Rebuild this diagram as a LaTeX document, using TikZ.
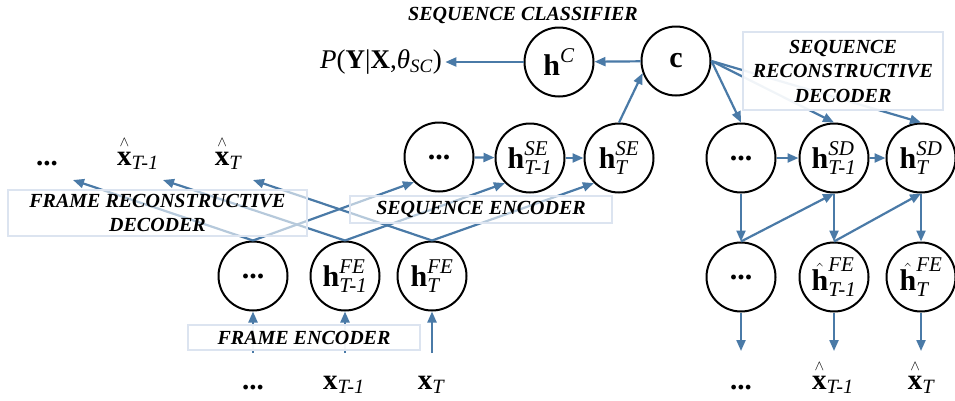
\documentclass[tikz,border=0pt]{standalone}
\usepackage{amsmath}
\usepackage{fontspec}
\setmainfont{Liberation Serif}
\usetikzlibrary{arrows.meta}
\definecolor{linkblue}{HTML}{4A7AA7}
\definecolor{boxedge}{HTML}{DCE4F0}
% bold symbol with a small caret set above it
\newcommand{\hatted}[1]{\overset{\scriptscriptstyle\wedge}{\textbf{#1}}}

\begin{document}
\begin{tikzpicture}[x=1pt,y=-1pt,
  unit/.style={circle,draw=black,line width=2pt,minimum size=69pt,inner sep=0pt,
    font=\fontsize{30}{30}\selectfont},
  link/.style={draw=linkblue,line width=2.2pt,-{Triangle[length=11pt,width=9pt]}},
  tag/.style={font=\fontsize{20}{24.5}\selectfont\bfseries\itshape,align=center},
  panel/.style={tag,draw=boxedge,line width=1.5pt,fill=white,fill opacity=#1,
    text opacity=1,inner sep=0pt},
  var/.style={font=\fontsize{29}{29}\selectfont,anchor=base}
]
\useasboundingbox (0,0) rectangle (955,400);

% --- frame encoder ---
\node[unit] (fe0) at (253,276) {\textbf{...}};
\node[unit] (fe1) at (345,276) {$\textbf{h}^{\textit{FE}}_{\textit{T-1}}$};
\node[unit] (fe2) at (432,276) {$\textbf{h}^{\textit{FE}}_{\textit{T}}$};

% --- sequence encoder ---
\node[unit] (se0) at (439,157) {\textbf{...}};
\node[unit] (se1) at (530,158) {$\textbf{h}^{\textit{SE}}_{\textit{T-1}}$};
\node[unit] (se2) at (619,158) {$\textbf{h}^{\textit{SE}}_{\textit{T}}$};

% --- classifier ---
\node[unit] (hc) at (559,62) {$\textbf{h}^{\textit{C}}$};
\node[unit] (cc) at (676,61) {\textbf{c}};
\node[font=\fontsize{27}{27}\selectfont] (prob) at (381,62)
  {\textit{P}(\textbf{Y}|\textbf{X},\textit{θ}\textsubscript{\textit{SC}})};

% --- sequence decoder ---
\node[unit] (sd0) at (741,158) {\textbf{...}};
\node[unit] (sd1) at (834,158) {$\textbf{h}^{\textit{SD}}_{\textit{T-1}}$};
\node[unit] (sd2) at (921,158) {$\textbf{h}^{\textit{SD}}_{\textit{T}}$};

% --- reconstructed frame states ---
\node[unit] (hd0) at (741,277) {\textbf{...}};
\node[unit] (hd1) at (834,277) {$\hat{\textbf{h}}^{\textit{FE}}_{\textit{T-1}}$};
\node[unit] (hd2) at (921,277) {$\hat{\textbf{h}}^{\textit{FE}}_{\textit{T}}$};

% --- inputs ---
\node[var] (x0) at (253,389) {\textbf{...}};
\node[var] (x1) at (344,389) {$\textbf{x}_{\textit{T-1}}$};
\node[var] (x2) at (431,389) {$\textbf{x}_{\textit{T}}$};
\coordinate (in0) at (253,353);
\coordinate (in1) at (345,353);
\coordinate (in2) at (432,353);

% --- frame decoder outputs (top left) ---
\node[var] (r0) at (47,165) {\textbf{...}};
\node[var] (r1) at (138,165) {$\hatted{x}_{\textit{T-1}}$};
\node[var] (r2) at (228,165) {$\hatted{x}_{\textit{T}}$};
\coordinate (rec0) at (73,180);
\coordinate (rec1) at (163,180);
\coordinate (rec2) at (253,180);

% --- sequence decoder outputs (bottom right) ---
\node[var] (y0) at (741,389) {\textbf{...}};
\node[var] (y1) at (833,389) {$\hatted{x}_{\textit{T-1}}$};
\node[var] (y2) at (921,389) {$\hatted{x}_{\textit{T}}$};
\coordinate (out0) at (741,351);
\coordinate (out1) at (834,351);
\coordinate (out2) at (921,351);

% --- connectors ---
\draw[link] (in0) -- (fe0);
\draw[link] (in1) -- (fe1);
\draw[link] (in2) -- (fe2);

\draw[link] (fe0.north) -- (rec0);
\draw[link] (fe1.north) -- (rec1);
\draw[link] (fe2.north) -- (rec2);

\draw[link] (fe0.north) -- (se0.225);
\draw[link] (fe1.north) -- (se1.225);
\draw[link] (fe2.north) -- (se2.225);

\draw[link] (se0) -- (se1);
\draw[link] (se1) -- (se2);
\draw[link] (se2.north) -- (cc.200);

\draw[link] (cc) -- (hc);
\draw[link] (hc) -- (prob);

\draw[link] (cc.east) -- (sd0.north);
\draw[link] (cc.east) -- (sd1.north);
\draw[link] (cc.east) -- (sd2.north);

\draw[link] (sd0) -- (sd1);
\draw[link] (sd1) -- (sd2);

\draw[link] (sd0) -- (hd0);
\draw[link] (sd1) -- (hd1);
\draw[link] (sd2) -- (hd2);
\draw[link] (hd0.north) -- (sd1.south);
\draw[link] (hd1.north) -- (sd2.south);

\draw[link] (hd0) -- (out0);
\draw[link] (hd1) -- (out1);
\draw[link] (hd2) -- (out2);

% --- block labels ---
\node[tag] (lsc) at (523,15) {SEQUENCE CLASSIFIER};
\node[panel=0.92,minimum width=200pt,minimum height=78pt] (lsrd) at (843,71)
  {SEQUENCE\\RECONSTRUCTIVE\\DECODER};
\node[panel=0.6,minimum width=299pt,minimum height=46pt] (lfrd) at (157.5,213)
  {FRAME RECONSTRUCTIVE\\DECODER};
\node[panel=0.6,minimum width=262pt,minimum height=27pt] (lse) at (481,209.5)
  {SEQUENCE ENCODER};
\node[panel=0.95,minimum width=232pt,minimum height=25pt] (lfe) at (304,337.5)
  {FRAME ENCODER};
\end{tikzpicture}
\end{document}
